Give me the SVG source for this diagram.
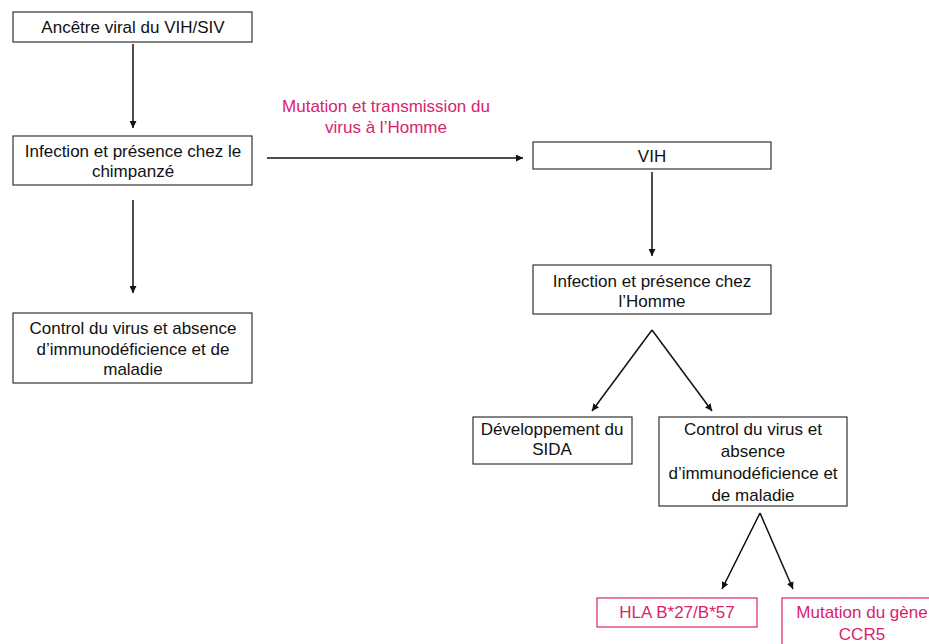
<svg xmlns="http://www.w3.org/2000/svg" width="929" height="644" viewBox="0 0 929 644">
<defs>
<style>
.box{fill:#fff;stroke:#333;stroke-width:1.2}
.pbox{fill:#fff;stroke:#d9236f;stroke-width:1.2}
.t{font-family:"Liberation Sans",Arial,sans-serif;font-size:17px;fill:#111;text-anchor:middle}
.p{font-family:"Liberation Sans",Arial,sans-serif;font-size:17px;fill:#d9236f;text-anchor:middle}
.c{stroke:#111;stroke-width:1.5;fill:none;marker-end:url(#ah)}
</style>
<marker id="ah" viewBox="0 0 10 10" refX="10" refY="5" markerWidth="7" markerHeight="7" markerUnits="userSpaceOnUse" orient="auto">
<path d="M0,0 L10,5 L0,10 z" fill="#111"/>
</marker>
</defs>
<rect width="929" height="644" fill="#fff"/>
<g id="connectors">
<line class="c" x1="133" y1="44" x2="133" y2="128"/>
<line class="c" x1="133" y1="200" x2="133" y2="293"/>
<line class="c" x1="267" y1="158" x2="523" y2="158"/>
<line class="c" x1="652" y1="172" x2="652" y2="256"/>
<line class="c" x1="652" y1="330" x2="592" y2="411"/>
<line class="c" x1="652" y1="330" x2="712" y2="411"/>
<line class="c" x1="760" y1="513" x2="722" y2="589"/>
<line class="c" x1="760" y1="513" x2="793" y2="589"/>
</g>
<g id="label-mutation">
<text class="p" x="386" y="112">Mutation et transmission du</text>
<text class="p" x="386" y="133">virus à l’Homme</text>
</g>
<g id="n1">
<rect class="box" x="13" y="12" width="239" height="30"/>
<text class="t" x="133" y="33">Ancêtre viral du VIH/SIV</text>
</g>
<g id="n2">
<rect class="box" x="13" y="136" width="239" height="49"/>
<text class="t" x="133" y="157">Infection et présence chez le</text>
<text class="t" x="133" y="177">chimpanzé</text>
</g>
<g id="n3">
<rect class="box" x="13" y="313" width="239" height="70"/>
<text class="t" x="133" y="334">Control du virus et absence</text>
<text class="t" x="133" y="355">d’immunodéficience et de</text>
<text class="t" x="133" y="375">maladie</text>
</g>
<g id="n4">
<rect class="box" x="533" y="142" width="238" height="27"/>
<text class="t" x="652" y="162">VIH</text>
</g>
<g id="n5">
<rect class="box" x="533" y="265" width="238" height="49"/>
<text class="t" x="652" y="287">Infection et présence chez</text>
<text class="t" x="652" y="307">l’Homme</text>
</g>
<g id="n6">
<rect class="box" x="473" y="417" width="159" height="47"/>
<text class="t" x="552" y="435">Développement du</text>
<text class="t" x="552" y="455">SIDA</text>
</g>
<g id="n7">
<rect class="box" x="659" y="417" width="188" height="89"/>
<text class="t" x="753" y="435">Control du virus et</text>
<text class="t" x="753" y="457">absence</text>
<text class="t" x="753" y="479">d’immunodéficience et</text>
<text class="t" x="753" y="501">de maladie</text>
</g>
<g id="n8">
<rect class="pbox" x="597" y="598" width="160" height="29"/>
<text class="p" x="677" y="618">HLA B*27/B*57</text>
</g>
<g id="n9">
<rect class="pbox" x="782" y="598" width="160" height="60"/>
<text class="p" x="862" y="618">Mutation du gène</text>
<text class="p" x="862" y="640">CCR5</text>
</g>
</svg>
